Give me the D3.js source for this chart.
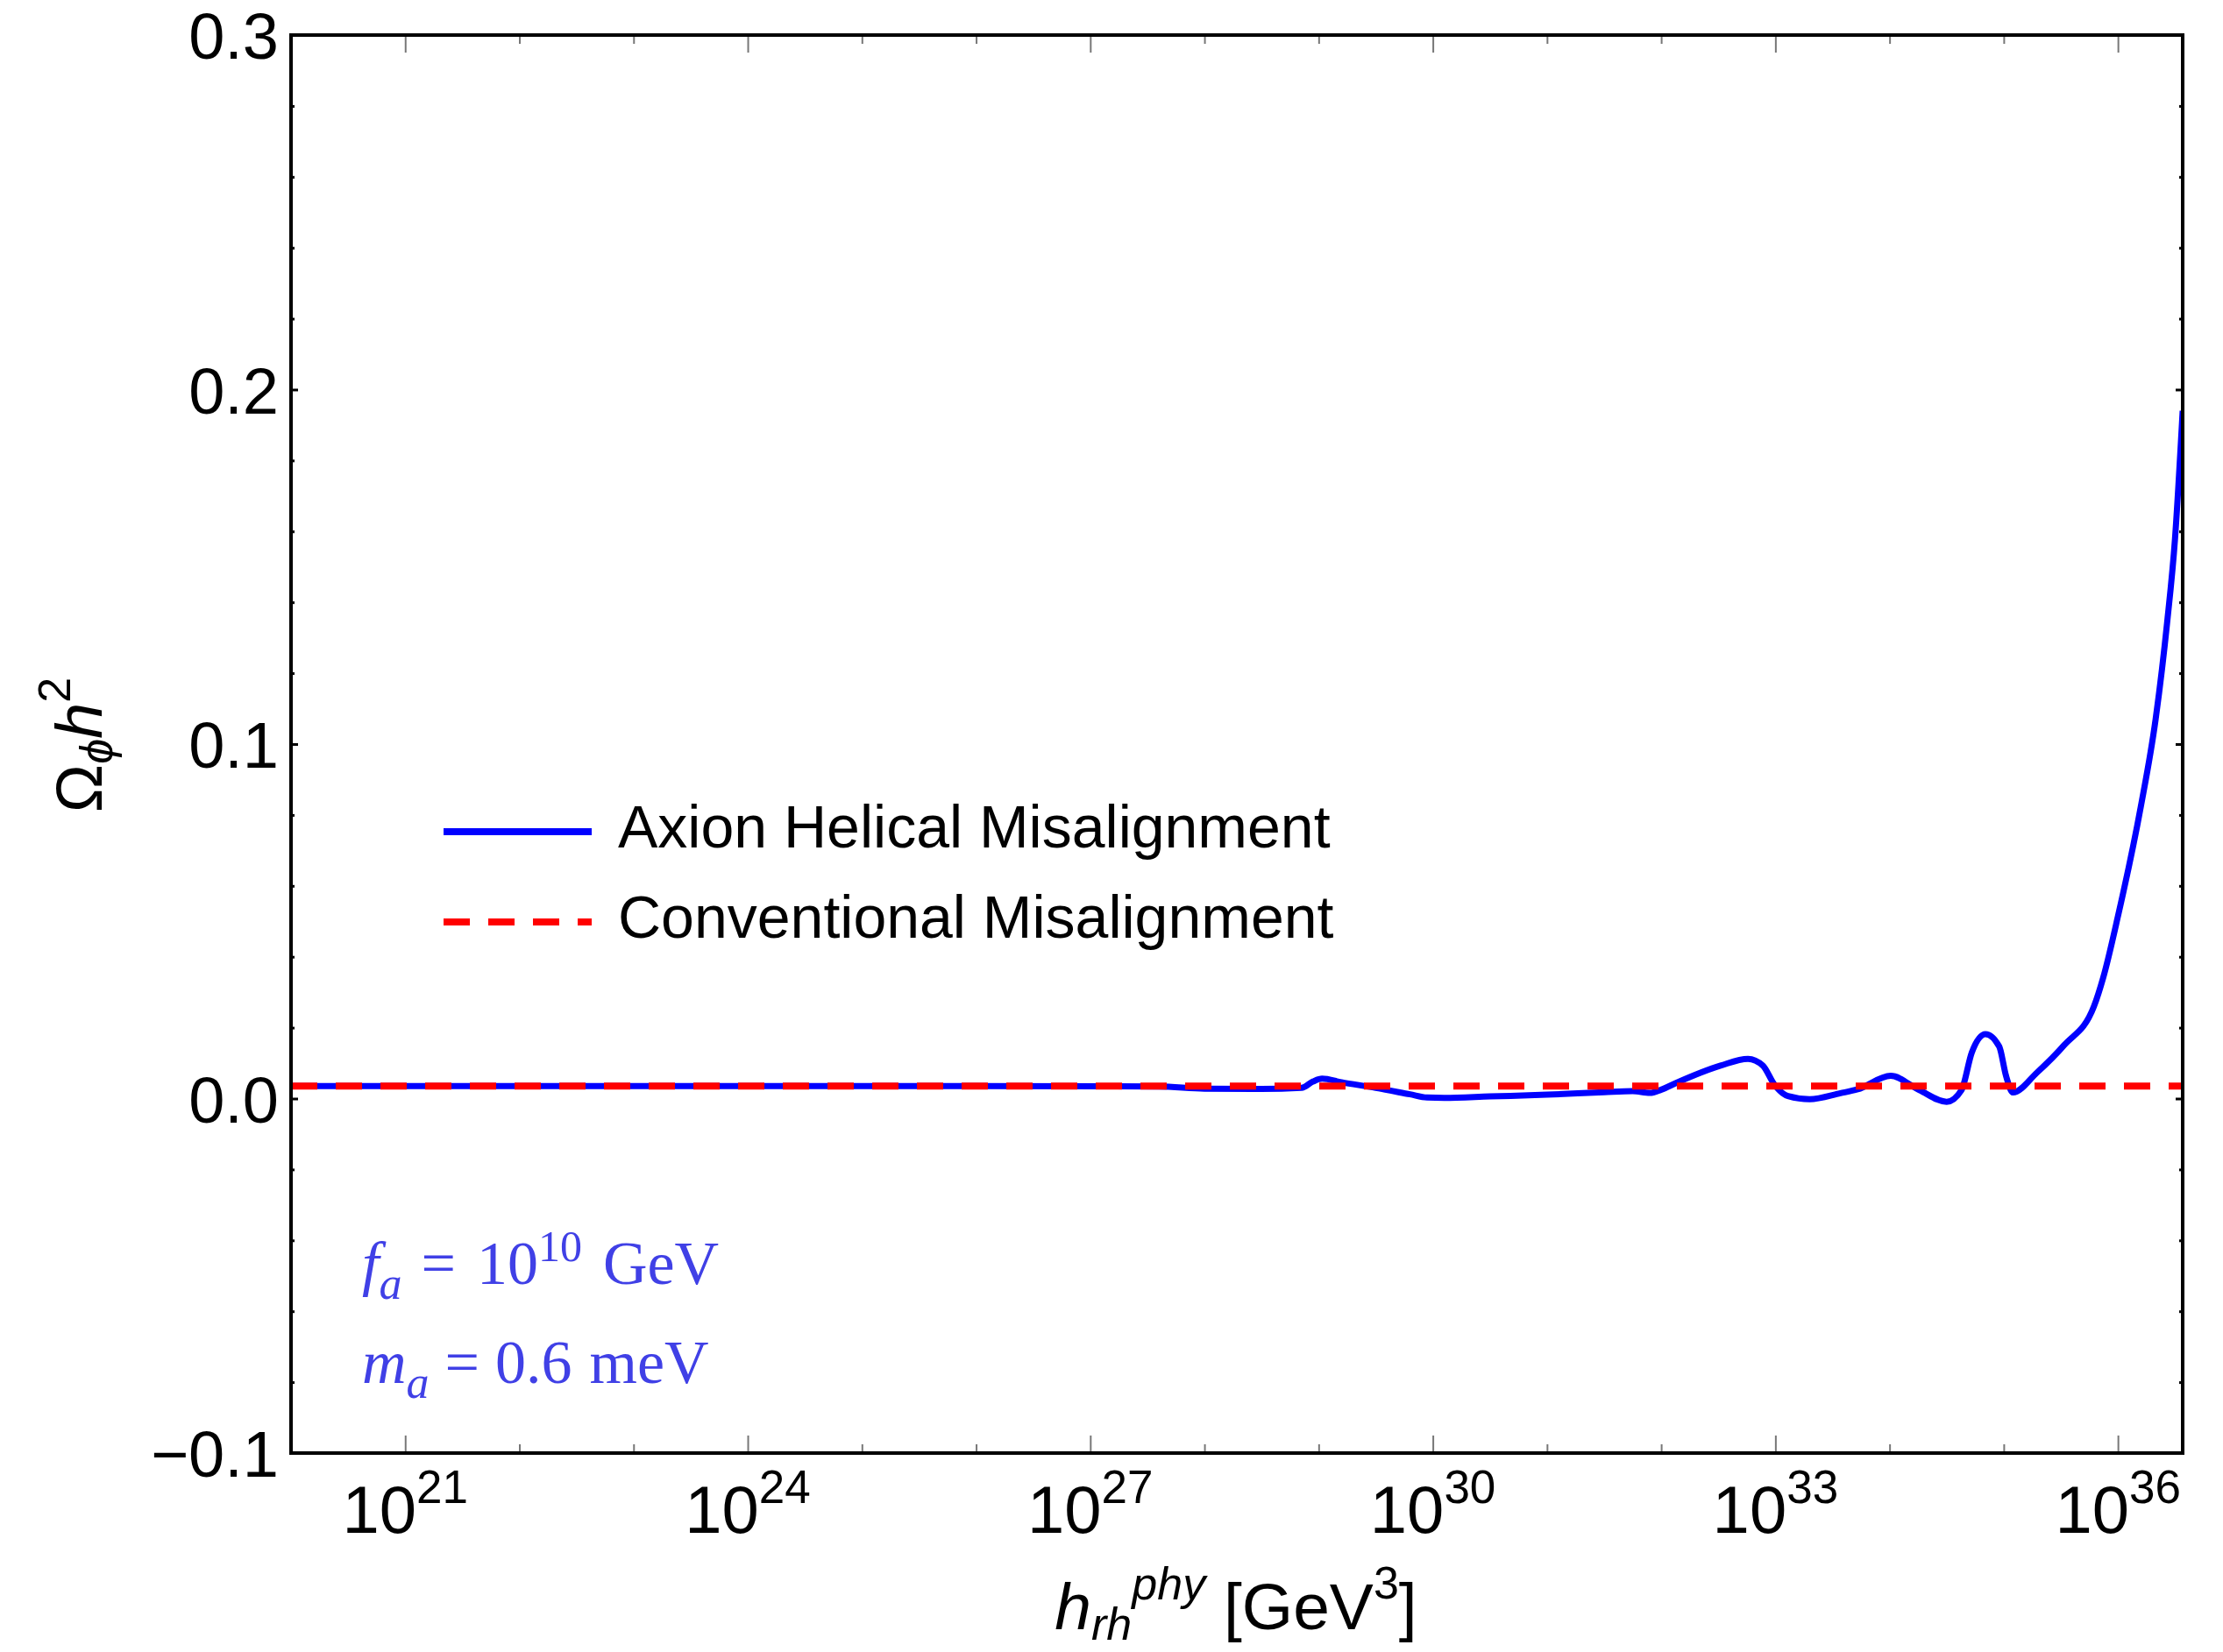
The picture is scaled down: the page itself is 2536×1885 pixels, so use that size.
<!DOCTYPE html>
<html>
<head>
<meta charset="utf-8">
<script src="https://cdn.jsdelivr.net/npm/d3@7"></script>
<style>
    body { margin: 0; background: #ffffff; }
    text { font-family: "Liberation Sans", Arial, sans-serif; }
    .serif { font-family: "Liberation Serif", "Times New Roman", serif; }
</style>
</head>
<body>
<div id="chart"></div>
<script>
// h_rh^phy is stored as its exponent: h = 10^exp  [GeV^3]
var helicalExp = [20.0, 26.0, 27.6, 28.0, 28.5, 28.85, 28.95, 29.03, 29.2, 29.5, 29.8, 29.95, 30.1, 30.5,
    31.0, 31.5, 31.75, 31.9, 32.0, 32.13, 32.52, 32.76, 32.89, 32.99, 33.11, 33.3, 33.57, 33.72,
    34.01, 34.26, 34.5, 34.63, 34.72, 34.84, 34.96, 35.02, 35.08, 35.29, 35.53, 35.79, 35.87,
    36.0, 36.2, 36.33, 36.43, 36.5, 36.567];
var helicalOmega = [0.0035, 0.0035, 0.0034, 0.0028, 0.0027, 0.0030, 0.0048, 0.0056, 0.0046, 0.0030, 0.0012, 0.0003, 0.0002, 0.0006,
    0.0011, 0.0018, 0.0021, 0.0016, 0.0025, 0.0044, 0.0093, 0.0112, 0.0093, 0.0040, 0.0007, -0.0002, 0.0015, 0.0026,
    0.0064, 0.0024, -0.0009, 0.0024, 0.0130, 0.0182, 0.0147, 0.0064, 0.0017, 0.0073, 0.0151, 0.0260, 0.0340,
    0.0514, 0.0823, 0.107, 0.134, 0.158, 0.194];

var convExp = [20.0, 36.567];
var convOmega = [0.0035, 0.0035];

var xMajorExp = [21, 24, 27, 30, 33, 36];
var xMinorExp = [22, 23, 25, 26, 28, 29, 31, 32, 34, 35];
var yMajor = [-0.1, 0.0, 0.1, 0.2, 0.3];
var yMajorLabels = ["\u22120.1", "0.0", "0.1", "0.2", "0.3"];
var legendLabels = ["Axion Helical Misalignment", "Conventional Misalignment"];

var svgWidth = 2536;
var svgHeight = 1885;

var margin = { top: 40, bottom: 227, left: 332, right: 46 };
var width = svgWidth - margin.left - margin.right;
var height = svgHeight - margin.top - margin.bottom;

var svg = d3.select("#chart")
    .append("svg")
    .attr("width", svgWidth)
    .attr("height", svgHeight)
    .style("background", "#ffffff");

var chartGroup = svg.append("g")
    .attr("transform", `translate(${margin.left}, ${margin.top})`);

// scales
var xScale = d3.scaleLog()
    .domain([1e20, Math.pow(10, 36.567)])
    .range([0, width]);

var yScale = d3.scaleLinear()
    .domain([-0.1, 0.3])
    .range([height, 0]);

var yMinor = d3.range(-0.08, 0.29, 0.02).filter(v => Math.abs(Math.round(v * 10) - v * 10) > 0.01);

// x ticks (gray, inside, on bottom and top)
function xTicks(axisFn, exps, size, translateY) {
    var g = chartGroup.append("g")
        .attr("transform", `translate(0, ${translateY})`)
        .call(axisFn(xScale)
            .tickValues(exps.map(e => Math.pow(10, e)))
            .tickSizeInner(-size)
            .tickSizeOuter(0)
            .tickFormat(""));
    g.select(".domain").remove();
    g.selectAll("line").attr("stroke", "#777").attr("stroke-width", 2);
}
xTicks(d3.axisBottom, xMajorExp, 20, height);
xTicks(d3.axisBottom, xMinorExp, 10, height);
xTicks(d3.axisTop, xMajorExp, 20, 0);
xTicks(d3.axisTop, xMinorExp, 10, 0);

// y ticks (black, inside, left and right)
function yTicks(axisFn, vals, size, translateX) {
    var g = chartGroup.append("g")
        .attr("transform", `translate(${translateX}, 0)`)
        .call(axisFn(yScale)
            .tickValues(vals)
            .tickSizeInner(-size)
            .tickSizeOuter(0)
            .tickFormat(""));
    g.select(".domain").remove();
    g.selectAll("line").attr("stroke", "#000").attr("stroke-width", 3);
}
yTicks(d3.axisLeft, yMajor, 8, 0);
yTicks(d3.axisLeft, yMinor, 4, 0);
yTicks(d3.axisRight, yMajor, 8, width);
yTicks(d3.axisRight, yMinor, 4, width);

// x tick labels 10^n
var xLabels = chartGroup.selectAll("text.xlab")
    .data(xMajorExp)
    .enter()
    .append("text")
    .classed("xlab", true)
    .attr("x", d => xScale(Math.pow(10, d)))
    .attr("y", height + 91)
    .attr("text-anchor", "middle")
    .style("font-size", "76px");
xLabels.append("tspan").text("10");
xLabels.append("tspan")
    .attr("dy", -34)
    .style("font-size", "53px")
    .text(d => d);

// y tick labels
chartGroup.selectAll("text.ylab")
    .data(yMajor)
    .enter()
    .append("text")
    .classed("ylab", true)
    .attr("x", -14)
    .attr("y", d => yScale(d) + 27)
    .attr("text-anchor", "end")
    .style("font-size", "74px")
    .text((d, i) => yMajorLabels[i]);

// clip
chartGroup.append("clipPath")
    .attr("id", "plotClip")
    .append("rect")
    .attr("width", width)
    .attr("height", height);

var line = d3.line()
    .x(d => xScale(Math.pow(10, d[0])))
    .y(d => yScale(d[1]))
    .curve(d3.curveMonotoneX);

chartGroup.append("path")
    .datum(d3.zip(helicalExp, helicalOmega))
    .attr("clip-path", "url(#plotClip)")
    .attr("fill", "none")
    .attr("stroke", "#0000ff")
    .attr("stroke-width", 7)
    .attr("stroke-linejoin", "round")
    .attr("d", line);

chartGroup.append("path")
    .datum(d3.zip(convExp, convOmega))
    .attr("clip-path", "url(#plotClip)")
    .attr("fill", "none")
    .attr("stroke", "#ff0000")
    .attr("stroke-width", 8)
    .attr("stroke-dasharray", "30,21")
    .attr("d", line);

// frame
chartGroup.append("rect")
    .attr("width", width)
    .attr("height", height)
    .attr("fill", "none")
    .attr("stroke", "#000")
    .attr("stroke-width", 4);

// legend
var legendGroup = chartGroup.append("g");
legendGroup.append("line")
    .attr("x1", 174).attr("x2", 343)
    .attr("y1", 909).attr("y2", 909)
    .attr("stroke", "#0000ff")
    .attr("stroke-width", 8);
legendGroup.append("line")
    .attr("x1", 174).attr("x2", 343)
    .attr("y1", 1012).attr("y2", 1012)
    .attr("stroke", "#ff0000")
    .attr("stroke-width", 8)
    .attr("stroke-dasharray", "30,21");
legendGroup.selectAll("text")
    .data(legendLabels)
    .enter()
    .append("text")
    .attr("x", 373)
    .attr("y", (d, i) => 927 + i * 103)
    .style("font-size", "68px")
    .text(d => d);

// parameter annotations
var annoColor = "#4040e6";
var fa = chartGroup.append("text")
    .classed("serif", true)
    .attr("x", 81)
    .attr("y", 1425)
    .attr("fill", annoColor)
    .style("font-size", "70px");
fa.append("tspan").style("font-style", "italic").text("f");
fa.append("tspan").style("font-style", "italic").style("font-size", "52px").attr("dy", 17).text("a");
fa.append("tspan").attr("dy", -17).attr("dx", 22).text("=");
fa.append("tspan").attr("dx", 24).text("10");
fa.append("tspan").style("font-size", "50px").attr("dy", -26).text("10");
fa.append("tspan").attr("dy", 26).attr("dx", 24).text("GeV");

var ma = chartGroup.append("text")
    .classed("serif", true)
    .attr("x", 81)
    .attr("y", 1538)
    .attr("fill", annoColor)
    .style("font-size", "70px");
ma.append("tspan").style("font-style", "italic").text("m");
ma.append("tspan").style("font-style", "italic").style("font-size", "52px").attr("dy", 17).text("a");
ma.append("tspan").attr("dy", -17).attr("dx", 18).text("=");
ma.append("tspan").attr("dx", 18).text("0.6");
ma.append("tspan").attr("dx", 20).text("meV");

// axis titles
var yTitle = svg.append("text")
    .attr("transform", "translate(116, 850) rotate(-90)")
    .attr("text-anchor", "middle")
    .style("font-size", "74px");
yTitle.append("tspan").text("\u03A9");
yTitle.append("tspan").style("font-style", "italic").style("font-size", "52px").attr("dy", 12).text("\u03D5");
yTitle.append("tspan").style("font-style", "italic").attr("dy", -12).text("h");
yTitle.append("tspan").style("font-size", "52px").attr("dy", -36).text("2");

var xTitle = svg.append("text")
    .attr("x", 1410)
    .attr("y", 1859)
    .attr("text-anchor", "middle")
    .style("font-size", "75px");
xTitle.append("tspan").style("font-style", "italic").text("h");
xTitle.append("tspan").style("font-style", "italic").style("font-size", "52px").attr("dy", 12).text("rh");
xTitle.append("tspan").style("font-style", "italic").style("font-size", "52px").attr("dy", -46).text("phy");
xTitle.append("tspan").attr("dy", 34).text(" [GeV");
xTitle.append("tspan").style("font-size", "52px").attr("dy", -35).text("3");
xTitle.append("tspan").attr("dy", 35).text("]");
</script>
</body>
</html>
